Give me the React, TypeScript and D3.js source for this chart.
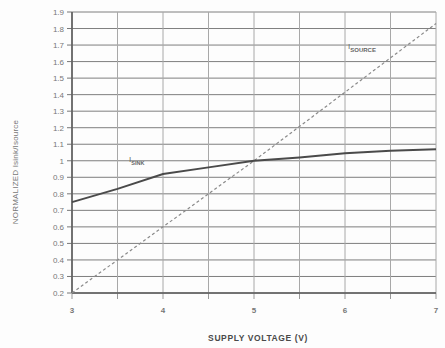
import React from "react";
import * as d3 from "d3";

const voltages = [3, 3.5, 4, 4.5, 5, 5.5, 6, 6.5, 7];
const isink = [0.75, 0.83, 0.92, 0.96, 1.0, 1.02, 1.045, 1.06, 1.07];
const isourceV = [3, 5, 7];
const isource = [0.2, 1.0, 1.83];
const yTicks = [0.2, 0.3, 0.4, 0.5, 0.6, 0.7, 0.8, 0.9, 1, 1.1, 1.2, 1.3, 1.4, 1.5, 1.6, 1.7, 1.8, 1.9];
const xGrid = [3, 3.5, 4, 4.5, 5, 5.5, 6, 6.5, 7];
const xLabels = [3, 4, 5, 6, 7];

export default function App() {
  const W = 445, H = 348;
  const x = d3.scaleLinear().domain([3, 7]).range([72, 436]);
  const y = d3.scaleLinear().domain([0.2, 1.9]).range([293, 12]);
  const line = d3.line<[number, number]>().x(d => x(d[0])).y(d => y(d[1]));
  const sinkPts = voltages.map((v, i) => [v, isink[i]] as [number, number]);
  const srcPts = isourceV.map((v, i) => [v, isource[i]] as [number, number]);
  const font = "Liberation Sans, Arial, sans-serif";
  return (
    <svg width={W} height={H} style={{ position: "absolute", left: 0, top: 0, background: "#fff" }}>
      <rect width={W} height={H} fill="#fdfdfd" />
      {yTicks.map(t => (
        <g key={"y" + t}>
          <line x1={x(3)} x2={x(7)} y1={y(t)} y2={y(t)} stroke="#7e7e7e" strokeWidth={1} />
          <line x1={67} x2={x(3)} y1={y(t)} y2={y(t)} stroke="#777" strokeWidth={1} />
          <text x={64} y={y(t) + 3} textAnchor="end" fontSize={8} fill="#777" fontFamily={font}>
            {t === 1 ? "1" : t.toFixed(1)}
          </text>
        </g>
      ))}
      {xGrid.map(v => (
        <g key={"x" + v}>
          <line x1={x(v)} x2={x(v)} y1={y(1.9)} y2={y(0.2)} stroke="#a8a8a8" strokeWidth={1} />
          <line x1={x(v)} x2={x(v)} y1={y(0.2)} y2={y(0.2) + 6} stroke="#999" strokeWidth={1} />
        </g>
      ))}
      {xLabels.map(v => (
        <text key={"xl" + v} x={x(v)} y={313} textAnchor="middle" fontSize={8} fill="#777" fontFamily={font} fontWeight="bold">
          {v}
        </text>
      ))}
      <line x1={x(3)} x2={x(3)} y1={y(1.9)} y2={y(0.2)} stroke="#5a5a5a" strokeWidth={1.6} />
      <line x1={x(3)} x2={x(7)} y1={y(0.2)} y2={y(0.2)} stroke="#5a5a5a" strokeWidth={1.6} />
      <path d={line(srcPts) || ""} fill="none" stroke="#8a8a8a" strokeWidth={1.2} strokeDasharray="3,2.5" />
      <path d={line(sinkPts) || ""} fill="none" stroke="#4a4a4a" strokeWidth={2} />
      <text x={129} y={162} fontSize={8} fill="#666" fontFamily={font}>
        I<tspan fontSize={5.5} dy={3} fontWeight="bold">SINK</tspan>
      </text>
      <text x={348} y={49} fontSize={8} fill="#666" fontFamily={font}>
        I<tspan fontSize={6} dy={3} fontWeight="bold">SOURCE</tspan>
      </text>
      <text x={258} y={341} textAnchor="middle" fontSize={8.5} fontWeight="bold" fill="#4a4a4a" fontFamily={font} letterSpacing={0.6}>
        SUPPLY VOLTAGE (V)
      </text>
      <text transform="translate(18,172) rotate(-90)" textAnchor="middle" fontSize={8} fill="#777" fontFamily={font} letterSpacing={0.2}>
        NORMALIZED Isink/Isource
      </text>
    </svg>
  );
}
